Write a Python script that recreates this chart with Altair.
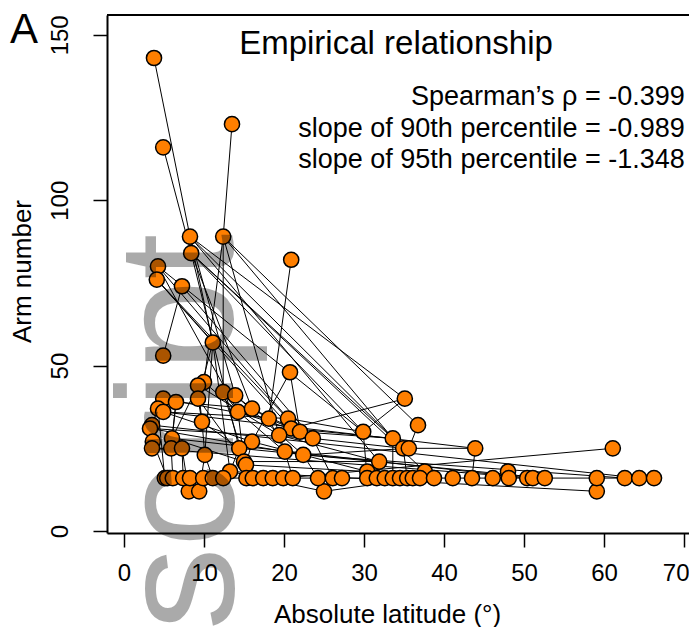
import altair as alt
import pandas as pd

FONT = "Liberation Sans"

# ---- data -----------------------------------------------------------------
# individual points P1..P62 : absolute latitude (deg) and arm number
pt_lat = [3.75, 4.9, 13.5, 8.25, 8.4, 12.4, 4.25, 4.1, 7.25, 20.9,
          11.1, 4.9, 20.75, 10.0, 9.25, 12.4, 13.9, 4.9, 9.25, 6.5,
          4.25, 4.9, 14.25, 16.0, 18.1, 20.5, 9.75, 3.5, 3.25, 20.9,
          22.0, 19.4, 23.6, 16.0, 14.4, 6.0, 3.6, 3.5, 5.9, 7.25,
          20.1, 10.1, 22.4, 15.0, 15.25, 13.25, 35.1, 36.75, 29.9, 33.6,
          34.9, 35.6, 43.9, 61.1, 31.9, 37.6, 48.0, 30.4, 8.1, 9.4,
          25.0, 59.1]
pt_arms = [143, 116, 123, 89, 84, 89, 80, 76, 74, 82,
           57, 53, 48, 45, 44, 42, 41, 40, 40, 39,
           37, 36, 36, 37, 34, 34, 33, 32, 31, 31,
           30, 29, 28, 27, 25, 28, 27, 25, 25, 25,
           24, 23, 23, 21, 20, 18, 40, 32, 30, 28,
           25, 25, 25, 25, 21, 18, 18, 18, 12, 12,
           12, 12]
# the dense row of 16-armed species B0..B36
row_lat = [5.1, 5.4, 6.1, 7.4, 8.25, 9.9, 11.1, 12.4, 15.3, 16.1,
           17.4, 18.6, 19.9, 21.1, 24.25, 26.1, 27.25, 30.4, 31.6, 32.6,
           33.6, 34.5, 35.4, 36.1, 37.0, 38.75, 41.1, 43.5, 46.1, 48.1,
           50.4, 51.1, 52.6, 59.1, 62.6, 64.4, 66.25]
row_arms = [16] * len(row_lat)

# connecting segments (from - to)
edges = """P1-P4 P2-P5 P3-P6 P10-P25 P9-P12
P4-P11 P4-P47 P4-P17 P4-P55 P4-P51 P5-P49 P5-P35 P5-P24 P5-P56 P5-P50
P6-P14 P6-P32 P6-P48 P6-P50 P6-P16 P7-P26 P7-P23 P7-P49 P8-P11 P8-P30 P8-P31 P9-P33
P11-P42 P11-P19 P11-P46 P13-P34 P13-P31
P14-P19 P15-P36 P15-P27 P16-P23 P17-P24 P18-P21 P18-P22 P19-P27 P20-P39 P20-P36 P21-P28
P22-P26 P23-P44 P24-P25 P25-P30 P26-P31 P27-P42 P28-P37 P29-P33 P29-P41 P30-P47 P47-P49
P31-P50 P32-P41 P33-P51 P34-P45 P35-P46 P36-P40 P37-P38 P38-P39 P39-P40 P40-P59 P41-P43
P42-P60 P43-P52 P44-P55 P45-P58 P46-B7 P48-P52 P51-P52 P52-P53 P54-B12 P62-B33 P61-B24
P35-B32 P43-B34 P59-P60 P60-B5 P59-B4 P21-B0 P37-B1 P39-B2 P40-B3 P42-B6 P44-B9 P45-B10
P41-B13 P43-B14 P33-B15 P49-B17 P55-B18 P50-B20 P51-B22 P53-B27 P57-B29 P56-B25 P58-B17
P61-P46 P46-P62 P28-B35 P38-B31 P22-P53 P36-B30
P20-P24 P22-P34 P27-P35 P19-P44 P14-P41 P16-P45 P17-P43 P23-P31 P24-P33 P25-P41
P26-P49 P30-P50 P32-P55 P34-P58 P36-P44 P15-P32 P18-P25""".split()
edges += [f"B{i}-B{i+1}" for i in range(len(row_lat) - 1)]

# ---- tables -----------------------------------------------------------------
coords = {}
for i, (a, b) in enumerate(zip(pt_lat, pt_arms)):
    coords[f"P{i+1}"] = (a, b)
for i, (a, b) in enumerate(zip(row_lat, row_arms)):
    coords[f"B{i}"] = (a, b)

points = pd.DataFrame(
    [{"lat": v[0], "arms": v[1], "k": k} for k, v in coords.items()]
)
seg_rows = []
for e in edges:
    a, b = e.split("-")
    seg_rows.append({"lat": coords[a][0], "arms": coords[a][1],
                     "lat2": coords[b][0], "arms2": coords[b][1]})
segs = pd.DataFrame(seg_rows)

W, H = 582, 518
XDOM = [-2.125, -2.125 + W / 8.0]
YDOM = [-0.6, 156.0]
xs = alt.Scale(domain=XDOM, nice=False, zero=False)
ys = alt.Scale(domain=YDOM, nice=False, zero=False)

xaxis = alt.Axis(values=[0, 10, 20, 30, 40, 50, 60, 70], title="Absolute latitude (°)",
                 grid=False, tickSize=14, tickWidth=1.5, domainWidth=2,
                 labelFontSize=24, labelPadding=14, labelFont=FONT,
                 labelFlush=8, labelFlushOffset=5,
                 titleFont=FONT, titleFontSize=26, titleFontWeight="normal",
                 titleX=280, titleY=89, titleBaseline="alphabetic", titleAnchor="middle",
                 labelColor="black", tickColor="black", domainColor="black", titleColor="black")
yaxis = alt.Axis(values=[0, 50, 100, 150], title="Arm number",
                 grid=False, tickSize=14, tickWidth=1.5, domainWidth=2,
                 labelFontSize=24, labelPadding=21, labelFont=FONT, labelAngle=270,
                 labelAlign="center", labelBaseline="bottom",
                 titleFont=FONT, titleFontSize=26, titleFontWeight="normal",
                 titleAngle=270, titleX=-77, titleY=256, titleBaseline="alphabetic",
                 titleAlign="center",
                 labelColor="black", tickColor="black", domainColor="black", titleColor="black")

lines = alt.Chart(segs).mark_rule(color="black", strokeWidth=1).encode(
    x=alt.X("lat:Q", scale=xs, axis=xaxis),
    y=alt.Y("arms:Q", scale=ys, axis=yaxis),
    x2="lat2:Q", y2="arms2:Q",
)

dots = alt.Chart(points).mark_point(
    shape="circle", filled=True, size=230, fill="#FF7F00", stroke="black",
    strokeWidth=1.5, opacity=1,
).encode(
    x=alt.X("lat:Q", scale=xs, axis=xaxis),
    y=alt.Y("arms:Q", scale=ys, axis=yaxis),
)

top_line = alt.Chart(pd.DataFrame({"a": [0]})).mark_rule(color="black", strokeWidth=2).encode(
    x=alt.XDatum(XDOM[0], scale=xs, axis=xaxis),
    x2=alt.X2Datum(XDOM[1]),
    y=alt.YDatum(YDOM[1], scale=ys, axis=yaxis),
)

def label(txt, x, y, size, align="left", baseline="alphabetic", angle=0, color="black", opacity=1.0):
    return alt.Chart(pd.DataFrame({"a": [0]})).mark_text(
        text=txt, font=FONT, fontSize=size, align=align, baseline=baseline,
        angle=angle, color=color, opacity=opacity,
    ).encode(
        x=alt.XDatum(x, scale=xs, axis=xaxis),
        y=alt.YDatum(y, scale=ys, axis=yaxis),
    )

title = label("Empirical relationship", 34.0, 144.2, 33, align="center")
stat1 = label("Spearman’s ρ = -0.399", 70.1, 128.8, 27, align="right")
stat2 = label("slope of 90th percentile = -0.989", 70.1, 119.1, 27, align="right")
stat3 = label("slope of 95th percentile = -1.348", 70.1, 109.8, 27, align="right")
panel = label("A", -14.25, 147.6, 42)
mark = label("script", 13.6, -30.0, 166, angle=270, color="black", opacity=0.33)

chart = alt.layer(lines, dots, top_line, title, stat1, stat2, stat3, panel, mark).properties(
    width=W, height=H,
    autosize=alt.AutoSizeParams(type="none"),
    padding={"left": 99, "top": 7, "right": 0, "bottom": 94},
).configure_view(stroke=None).configure(background="white")

chart.save("out.html", embed_options={"renderer": "svg", "actions": False})
